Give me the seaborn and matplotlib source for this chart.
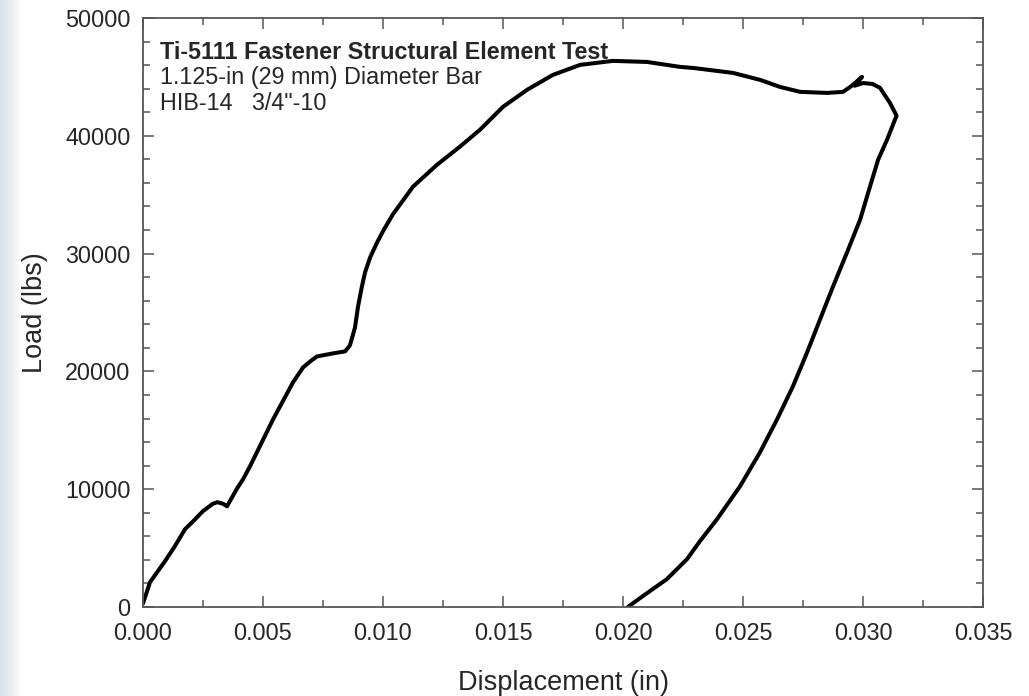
import numpy as np
import pandas as pd
import matplotlib
matplotlib.use("Agg")
import matplotlib.pyplot as plt
from matplotlib.ticker import MultipleLocator
from matplotlib.colors import LinearSegmentedColormap
import seaborn as sns

# Load-displacement curve (in, lbs)
displacement = [
    0.00000, 0.00029, 0.00092, 0.00133, 0.00175, 0.00210, 0.00250, 0.00290, 0.00310,
    0.00335, 0.00350, 0.00390, 0.00417, 0.00446, 0.00542, 0.00625, 0.00667, 0.00700,
    0.00725, 0.00792, 0.00842, 0.00862, 0.00883, 0.00896, 0.00912, 0.00925, 0.00946,
    0.00975, 0.01000, 0.01040, 0.01125, 0.01225, 0.01320, 0.01404, 0.01500, 0.01600,
    0.01708, 0.01821, 0.01958, 0.02100, 0.02238, 0.02292, 0.02458, 0.02571, 0.02654,
    0.02738, 0.02850, 0.02917, 0.02950, 0.02996, 0.02965, 0.03000, 0.03040, 0.03071,
    0.03112, 0.03140, 0.03133, 0.03100, 0.03063, 0.03029, 0.02988, 0.02933, 0.02875,
    0.02821, 0.02767, 0.02708, 0.02642, 0.02571, 0.02488, 0.02392, 0.02321, 0.02267,
    0.02183, 0.02083, 0.02020,
]
load = [
    300, 2100, 3900, 5170, 6600, 7300, 8140, 8750, 8900,
    8750, 8550, 10000, 10850, 11950, 15930, 19070, 20340, 20900,
    21270, 21530, 21700, 22200, 23700, 25510, 27200, 28390, 29660,
    30930, 31900, 33300, 35680, 37540, 39070, 40510, 42460, 43900,
    45170, 46020, 46360, 46270, 45850, 45760, 45340, 44750, 44150,
    43730, 43640, 43730, 44200, 45000, 44250, 44480, 44400, 44070,
    42800, 41700, 41360, 39660, 37970, 35680, 32880, 30080, 27200,
    24410, 21610, 18730, 15930, 13140, 10260, 7460, 5600, 4070,
    2370, 930, 0,
]

x_ticks = [0.000, 0.005, 0.010, 0.015, 0.020, 0.025, 0.030, 0.035]
x_ticklabels = ["0.000", "0.005", "0.010", "0.015", "0.020", "0.025", "0.030", "0.035"]
y_ticks = [0, 10000, 20000, 30000, 40000, 50000]
y_ticklabels = ["0", "10000", "20000", "30000", "40000", "50000"]
annotation_lines = [
    "Ti-5111 Fastener Structural Element Test",
    "1.125-in (29 mm) Diameter Bar",
    "HIB-14   3/4\"-10",
]
annotation_y = [46520, 44360, 42160]

sns.set_style("ticks")
plt.rcParams["font.family"] = ["Liberation Sans", "DejaVu Sans"]

fig = plt.figure(figsize=(10.29, 6.96), dpi=100)
fig.patch.set_facecolor("white")

# light blue strip on the left edge
strip = fig.add_axes([0, 0, 22 / 1029, 1])
grad = np.linspace(0, 1, 50).reshape(1, -1)
cmap = LinearSegmentedColormap.from_list("strip", ["#d9e1eb", "#e8edf3", "#ffffff"])
strip.imshow(grad, aspect="auto", cmap=cmap, extent=[0, 1, 0, 1])
strip.axis("off")

ax = fig.add_axes([143 / 1029, 1 - 607 / 696, (983 - 143) / 1029, (607 - 18) / 696])

df = pd.DataFrame({"Displacement": displacement, "Load": load})
sns.lineplot(data=df, x="Displacement", y="Load", sort=False, estimator=None,
             color="black", linewidth=2.9, ax=ax)
for ln in ax.lines:
    ln.set_solid_joinstyle("round")
    ln.set_solid_capstyle("round")

ax.set_xlim(0, 0.035)
ax.set_ylim(0, 50000)
ax.set_xticks(x_ticks)
ax.set_xticklabels(x_ticklabels)
ax.set_yticks(y_ticks)
ax.set_yticklabels(y_ticklabels)
ax.xaxis.set_minor_locator(MultipleLocator(0.0025))
ax.yaxis.set_minor_locator(MultipleLocator(2000))

spine_color = "#555555"
for s in ax.spines.values():
    s.set_color(spine_color)
    s.set_linewidth(1.3)
    s.set_visible(True)

ax.tick_params(which="both", direction="in", top=True, right=True, color=spine_color, width=1.1)
ax.tick_params(which="major", length=8)
ax.tick_params(which="minor", length=5)
ax.tick_params(axis="x", which="major", pad=11, labelsize=16.8)
ax.tick_params(axis="y", which="major", pad=9, labelsize=16.8)

ax.set_xlabel("Displacement (in)", fontsize=19.5, labelpad=18)
ax.set_ylabel("Load (lbs)", fontsize=19.5, labelpad=12)

ax.text(0.0007, annotation_y[0], annotation_lines[0], fontsize=16.8, fontweight="bold", va="baseline")
ax.text(0.0007, annotation_y[1], annotation_lines[1], fontsize=16.8, va="baseline")
ax.text(0.0007, annotation_y[2], annotation_lines[2], fontsize=16.8, va="baseline")

fig.savefig("out.png", dpi=100)
